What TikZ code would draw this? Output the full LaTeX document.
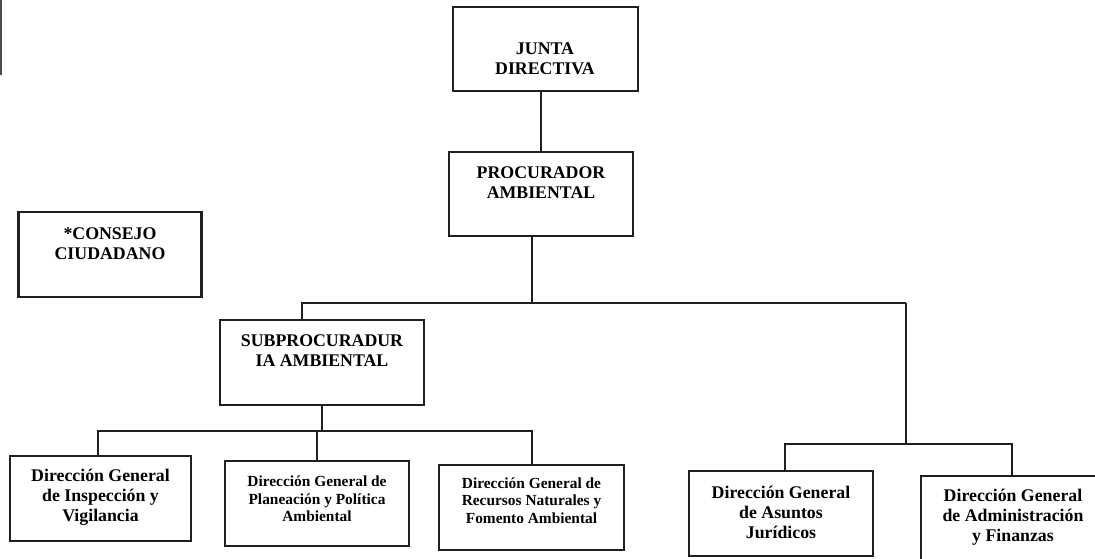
\documentclass[tikz,border=0pt]{standalone}
\usepackage{fontspec}
\setmainfont{Liberation Serif}
\begin{document}
\begin{tikzpicture}[x=1pt,y=-1pt,
  box/.style={draw=black!88,line width=2.5pt,rectangle,inner sep=0pt,minimum width=184pt,minimum height=85pt},
  txt/.style={align=center,inner sep=0pt,font=\bfseries\fontsize{17.8}{20}\selectfont},
  stxt/.style={align=center,inner sep=0pt,font=\bfseries\fontsize{15.4}{17.3}\selectfont},
  conn/.style={draw=black!88,line width=1.7pt}]
\useasboundingbox (0,0) rectangle (1095,558);
\clip (0,0) rectangle (1095,558);
\fill[white] (0,0) rectangle (1095,558);
% scan edge artifact
\fill[black!70] (0,0) rectangle (2,75);
% boxes
\node[box,minimum width=185pt,minimum height=84pt] (junta) at (545.5,49) {};
\node[txt] (juntat) at (545,59) {JUNTA\\DIRECTIVA};
\node[box,minimum height=84pt] (proc) at (541,194) {};
\node[txt] (proct) at (541,183) {PROCURADOR\\AMBIENTAL};
\node[box,minimum width=183pt] (cons) at (110,254.5) {};
\node[txt] (const) at (110,243.5) {*CONSEJO\\CIUDADANO};
\node[box,minimum width=204pt] (sub) at (322,362.5) {};
\node[txt] (subt) at (322,351) {SUBPROCURADUR\\IA AMBIENTAL};
\node[box,minimum width=181pt] (insp) at (100.5,498.5) {};
\node[txt] (inspt) at (100.5,497) {Dirección General\\de Inspección y\\Vigilancia};
\node[box] (plan) at (317,503.5) {};
\node[stxt] (plant) at (317,499) {Dirección General de\\Planeación y Política\\Ambiental};
\node[box,minimum width=185pt] (recur) at (531.5,507.5) {};
\node[stxt] (recurt) at (531.5,500.5) {Dirección General de\\Recursos Naturales y\\Fomento Ambiental};
\node[box] (jur) at (781,513.5) {};
\node[txt] (jurt) at (781,512) {Dirección General\\de Asuntos\\Jurídicos};
\node[box] (adm) at (1013,518.5) {};
\node[txt] (admt) at (1013,517) {Dirección General\\de Administración\\y Finanzas};
% connectors
\coordinate (jd) at (541,0);
\draw[conn] (junta.south -| jd) -- (proc.north -| jd);
\coordinate (pd) at (532,303);
\coordinate (l1) at (302,303);
\coordinate (r1) at (906,303);
\draw[conn] (proc.south -| pd) -- (pd);
\draw[conn] (l1 |- sub.north) -- (l1) -- (r1);
\coordinate (b2l) at (785,444);
\coordinate (b2r) at (1012,444);
\draw[conn] (r1) -- (r1 |- b2l);
\draw[conn] (b2l |- jur.north) -- (b2l) -- (b2r) -- (b2r |- adm.north);
\coordinate (c1) at (98,431);
\coordinate (c3) at (532,431);
\draw[conn] (sub.south) -- (sub.south |- c1);
\draw[conn] (c1 |- insp.north) -- (c1) -- (c3) -- (c3 |- recur.north);
\draw[conn] (plan.north |- c1) -- (plan.north);
\end{tikzpicture}
\end{document}
